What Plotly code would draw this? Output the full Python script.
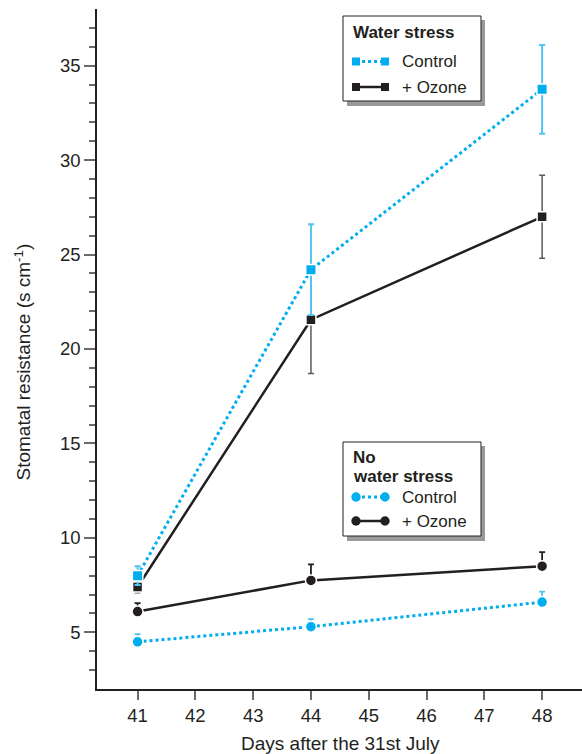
import plotly.graph_objects as go

# ---- data ----
days = [41, 44, 48]
ws_control = [8.0, 24.2, 33.75]
ws_control_err = [0.5, 2.4, 2.35]
ws_ozone = [7.4, 21.55, 27.0]
ws_ozone_err = [0.3, 2.85, 2.2]
nws_control = [4.5, 5.3, 6.6]
nws_control_err = [0.4, 0.4, 0.55]
nws_ozone = [6.1, 7.75, 8.5]
nws_ozone_err = [0.45, 0.85, 0.75]

x_ticks = [41, 42, 43, 44, 45, 46, 47, 48]
y_ticks = [5, 10, 15, 20, 25, 30, 35]
y_minor = [v for v in range(3, 38) if v % 5 != 0]

BLUE = "#00AEEF"
BLUE_ERR = "#55C3F0"
BLACK = "#231F20"
GRAY_ERR = "#5a5a5a"
FONT = "Liberation Sans, Arial, sans-serif"

# layout geometry (pixels)
W_FIG, H_FIG = 582, 754
L, T = 97, 9
PW, PH = 485, 680


def px(x):
    return (x - L) / PW


def py(y):
    return (T + PH - y) / PH


fig = go.Figure()

fig.add_trace(go.Scatter(
    x=days, y=ws_ozone, mode="lines+markers",
    line=dict(color=BLACK, width=2.5),
    marker=dict(symbol="square", size=10, color=BLACK, line=dict(color="white", width=1.5)),
    error_y=dict(type="data", array=ws_ozone_err, color=GRAY_ERR, thickness=1.5, width=3),
    showlegend=False))

fig.add_trace(go.Scatter(
    x=days, y=ws_control, mode="lines+markers",
    line=dict(color=BLUE, width=3, dash="3px,3px"),
    marker=dict(symbol="square", size=10.5, color=BLUE, line=dict(color="white", width=1.5)),
    error_y=dict(type="data", array=ws_control_err, color=BLUE_ERR, thickness=2, width=3),
    showlegend=False))

fig.add_trace(go.Scatter(
    x=days, y=nws_ozone, mode="lines+markers",
    line=dict(color=BLACK, width=2.5),
    marker=dict(symbol="circle", size=11, color=BLACK, line=dict(color="white", width=1.5)),
    error_y=dict(type="data", symmetric=False, array=nws_ozone_err, arrayminus=[0, 0, 0],
                 color=BLACK, thickness=1.8, width=3),
    showlegend=False))

fig.add_trace(go.Scatter(
    x=days, y=nws_control, mode="lines+markers",
    line=dict(color=BLUE, width=3, dash="3px,3px"),
    marker=dict(symbol="circle", size=11, color=BLUE, line=dict(color="white", width=1.5)),
    error_y=dict(type="data", symmetric=False, array=nws_control_err, arrayminus=[0, 0, 0],
                 color=BLUE_ERR, thickness=1.8, width=3),
    showlegend=False))

shapes = []
annotations = []


def text_at(x, y, s, size=17, anchor="left"):
    annotations.append(dict(xref="paper", yref="paper", x=px(x), y=py(y), text=s,
                            showarrow=False, xanchor=anchor, yanchor="middle",
                            font=dict(size=size, color=BLACK, family=FONT)))


def legend_box(x0, y0, x1, y1):
    shapes.append(dict(type="rect", xref="paper", yref="paper",
                       x0=px(x0 + 4), x1=px(x1 + 4), y0=py(y1 + 5), y1=py(y0 + 4),
                       fillcolor="#9a9a9a", line=dict(width=0), layer="above"))
    shapes.append(dict(type="rect", xref="paper", yref="paper",
                       x0=px(x0), x1=px(x1), y0=py(y1), y1=py(y0),
                       fillcolor="white", line=dict(color=BLACK, width=1), layer="above"))


def legend_item(yc, color, dash, symbol, label):
    xa, xb = 356, 385
    shapes.append(dict(type="line", xref="paper", yref="paper",
                       x0=px(xa), x1=px(xb), y0=py(yc), y1=py(yc),
                       line=dict(color=color, width=2.5 if dash == "solid" else 3, dash=dash),
                       layer="above"))
    for xc in (xa, xb):
        r = 4 if symbol == "square" else 4.7
        shapes.append(dict(type="rect" if symbol == "square" else "circle",
                           xref="paper", yref="paper",
                           x0=px(xc - r), x1=px(xc + r), y0=py(yc + r), y1=py(yc - r),
                           fillcolor=color, line=dict(width=0), layer="above"))
    text_at(400, yc, label)


legend_box(343, 16, 481, 101)
text_at(351, 33, "<b>Water stress</b>")
legend_item(61.5, BLUE, "3px,3px", "square", "Control")
legend_item(87, BLACK, "solid", "square", "+ Ozone")

legend_box(343, 442, 481, 536)
text_at(351, 457, "<b>No</b>")
text_at(351, 476.5, "<b>water stress</b>")
legend_item(497, BLUE, "3px,3px", "circle", "Control")
legend_item(521, BLACK, "solid", "circle", "+ Ozone")

# axis titles
text_at(340, 743, "Days after the 31st July", size=19, anchor="center")
annotations.append(dict(xref="paper", yref="paper", x=px(23), y=py(362.5),
                        text="Stomatal resistance (s cm<sup>-1</sup>)", showarrow=False,
                        textangle=-90, xanchor="center", yanchor="middle",
                        font=dict(size=19, color=BLACK, family=FONT)))

fig.update_layout(
    width=W_FIG, height=H_FIG,
    margin=dict(l=L, r=W_FIG - L - PW, t=T, b=H_FIG - T - PH),
    paper_bgcolor="white", plot_bgcolor="white",
    font=dict(family=FONT, color=BLACK, size=18),
    shapes=shapes, annotations=annotations,
    xaxis=dict(range=[40.298, 48.69], tickvals=x_ticks, ticktext=[str(v) for v in x_ticks],
               showline=True, linecolor=BLACK, linewidth=1.5, showgrid=False, zeroline=False,
               ticks="outside", ticklen=9, tickwidth=1.5, tickcolor="#6a6a6a",
               tickfont=dict(size=18.5, color=BLACK, family=FONT)),
    yaxis=dict(range=[2, 38], tickvals=y_ticks, ticktext=[str(v) for v in y_ticks],
               showline=True, linecolor=BLACK, linewidth=1.5, showgrid=False, zeroline=False,
               ticks="outside", ticklen=11, tickwidth=1.5, tickcolor="#6a6a6a",
               tickfont=dict(size=18.5, color=BLACK, family=FONT),
               minor=dict(tickvals=y_minor, ticks="outside", ticklen=6, tickwidth=1.5,
                          tickcolor="#6a6a6a", showgrid=False)),
)

fig.write_html("out.html",
               config={"displayModeBar": False},
               post_script="document.body.style.margin='0';document.body.style.padding='0';"
                           "document.documentElement.style.overflow='hidden';")
